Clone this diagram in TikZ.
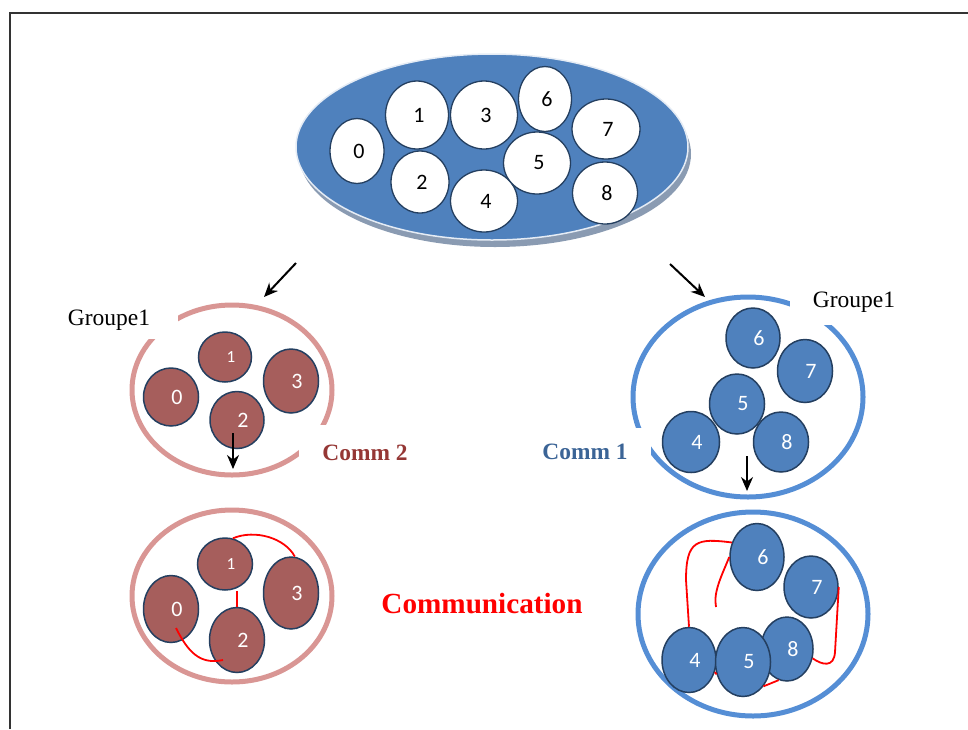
\documentclass[tikz,border=0pt]{standalone}
\usepackage{fontspec}
\setmainfont{Liberation Serif}
\newfontfamily\numfont{Carlito}
\usepackage{tikz}
\usetikzlibrary{arrows.meta, shapes.geometric, positioning}
\definecolor{poolblue}{HTML}{4F81BD}
\definecolor{poolshadow}{HTML}{8A9BB2}
\definecolor{cellnavy}{HTML}{243F60}
\definecolor{cellred}{HTML}{A65E5C}
\definecolor{ringpink}{HTML}{D99694}
\definecolor{ringblue}{HTML}{558ED5}
\definecolor{commred}{HTML}{953735}
\definecolor{commblue}{HTML}{3B6496}

\begin{document}
\begin{tikzpicture}[
  x=1pt, y=-1pt,
  wh/.style 2 args={minimum width=#1pt, minimum height=#2pt},
  poolcell/.style={
    ellipse, inner sep=0pt, draw=cellnavy, line width=1.3pt, fill=white,
    font=\numfont\fontsize{22}{24}\selectfont,
    execute at begin node={\hspace*{4pt}}
  },
  redcell/.style={
    ellipse, inner sep=0pt, draw=cellnavy, line width=1.5pt, fill=cellred,
    text=white, font=\numfont\fontsize{22}{24}\selectfont,
    execute at begin node={\hspace*{12pt}}
  },
  bluecell/.style={
    ellipse, inner sep=0pt, draw=cellnavy, line width=1.5pt, fill=poolblue,
    text=white, font=\numfont\fontsize{22}{24}\selectfont,
    execute at begin node={\hspace*{12pt}}
  },
  small/.style={font=\numfont\fontsize{17}{19}\selectfont},
  ring/.style={ellipse, inner sep=0pt, line width=5pt},
  tag/.style={fill=white, inner ysep=0pt, font=\fontsize{23.5}{26}\selectfont},
  commtag/.style={fill=white, inner ysep=0pt, font=\bfseries\fontsize{23.4}{26}\selectfont},
  arr/.style={-{Stealth[length=14pt, width=12pt]}, line width=2pt},
  link/.style={red, line width=1.8pt}
]
  \useasboundingbox (0,0) rectangle (968,729);

  % Frame
  \draw[line width=2pt, black!80] (10,729) -- (10,13) -- (968,13);

  % Pool of processes
  \node[ellipse, fill=poolshadow, wh={392}{186}] (poolsh) at (495,154) {};
  \node[ellipse, fill=poolblue, draw=white!85!poolblue, line width=1.5pt, wh={392}{186}] (pool) at (492,147) {};

  \node[poolcell, wh={54}{65}] (p0) at (357,151) {0};
  \node[poolcell, wh={63}{68}] (p1) at (417,115) {1};
  \node[poolcell, wh={58}{62}] (p2) at (420,182) {2};
  \node[poolcell, wh={67}{68}] (p3) at (484,115) {3};
  \node[poolcell, wh={67}{62}] (p4) at (484,201) {4};
  \node[poolcell, wh={53}{65}] (p6) at (545,99)  {6};
  \node[poolcell, wh={67}{62}] (p5) at (537,163) {5};
  \node[poolcell, wh={68}{60}] (p7) at (606,129) {7};
  \node[poolcell, wh={65}{62}] (p8) at (605,193) {8};

  % Split arrows
  \coordinate (splitL_s) at (296,263);
  \coordinate (splitL_e) at (264,297);
  \coordinate (splitR_s) at (670,264);
  \coordinate (splitR_e) at (705,297);
  \draw[arr] (splitL_s) -- (splitL_e);
  \draw[arr] (splitR_s) -- (splitR_e);

  % Comm 2 group
  \node[ring, draw=ringpink, wh={200}{170}] (ringA) at (232,390) {};
  \node[tag, minimum height=38pt, inner xsep=28pt] (grpA) at (109,320) {Groupe1};
  \node[commtag, text=commred, minimum height=56pt, inner xsep=23pt] (commA) at (365,453) {Comm 2};

  \node[redcell, small, wh={53}{50}] (a1) at (225,357) {1};
  \node[redcell, wh={55}{64}] (a3) at (291,381) {3};
  \node[redcell, wh={55}{58}] (a0) at (171,397) {0};
  \node[redcell, wh={54}{57}] (a2) at (237,420) {2};

  \coordinate (downA_s) at (233,433);
  \coordinate (downA_e) at (233,469);
  \draw[arr, line width=1.6pt] (downA_s) -- (downA_e);

  % Comm 1 group
  \node[ring, draw=ringblue, wh={230}{200}] (ringB) at (748,397) {};
  \node[tag, minimum height=46pt, inner xsep=23pt] (grpB) at (854,302) {Groupe1};
  \node[commtag, text=commblue, minimum height=48pt, inner xsep=23pt] (commB) at (585,452) {Comm 1};

  \node[bluecell, wh={54}{60}] (b6) at (753,338) {6};
  \node[bluecell, wh={55}{63}] (b7) at (805,371) {7};
  \node[bluecell, wh={55}{60}] (b5) at (737,404) {5};
  \node[bluecell, wh={57}{61}] (b4) at (691,442) {4};
  \node[bluecell, wh={55}{60}] (b8) at (781,442) {8};

  \coordinate (downB_s) at (747,456);
  \coordinate (downB_e) at (747,491);
  \draw[arr, line width=1.6pt] (downB_s) -- (downB_e);

  % Comm 2 after communication
  \node[ring, draw=ringpink, wh={200}{172}] (ringC) at (232,596) {};
  \node[redcell, small, wh={55}{52}] (c1) at (225,564) {1};
  \node[redcell, wh={55}{72}] (c3) at (291,593) {3};
  \node[redcell, wh={55}{67}] (c0) at (171,609) {0};
  \node[redcell, wh={55}{65}] (c2) at (237,640) {2};

  \draw[link] (c1.73) .. controls (255,529) and (285,538) .. (c3.84);
  \draw[link] (c1.south -| c2.north) -- (c2.north);
  \draw[link] ([shift={(5,19)}]c0.center) .. controls (188,652) and (200,665) .. ([shift={(-14,20)}]c2.center);

  % Comm 1 after communication
  \node[ring, draw=ringblue, wh={230}{204}] (ringD) at (753,614) {};
  \node[bluecell, wh={54}{65}] (d4) at (689,660) {4};
  \node[bluecell, wh={52}{64}] (d8) at (787,649) {8};
  \node[bluecell, wh={55}{69}] (d5) at (743,662) {5};
  \node[bluecell, wh={54}{67}] (d6) at (757,557) {6};
  \node[bluecell, wh={54}{62}] (d7) at (811,587) {7};

  \coordinate (loose) at (716,607);
  \draw[link] (d6.150) .. controls (697,538) and (686,540) .. (686,580) -- (d4.north);
  \draw[link] (d6.west) .. controls (722,575) and (713,592) .. (loose);
  \draw[link] (d7.east) -- (835,652) .. controls (834,668) and (822,665) .. (d8.-20);
  \draw[link] (d4.-25) -- (d5.205);
  \draw[link] (d5.-50) -- (d8.-105);

  % Middle label
  \node[text=red, font=\bfseries\fontsize{29.2}{32}\selectfont] (comm) at (482,604) {Communication};
\end{tikzpicture}
\end{document}
